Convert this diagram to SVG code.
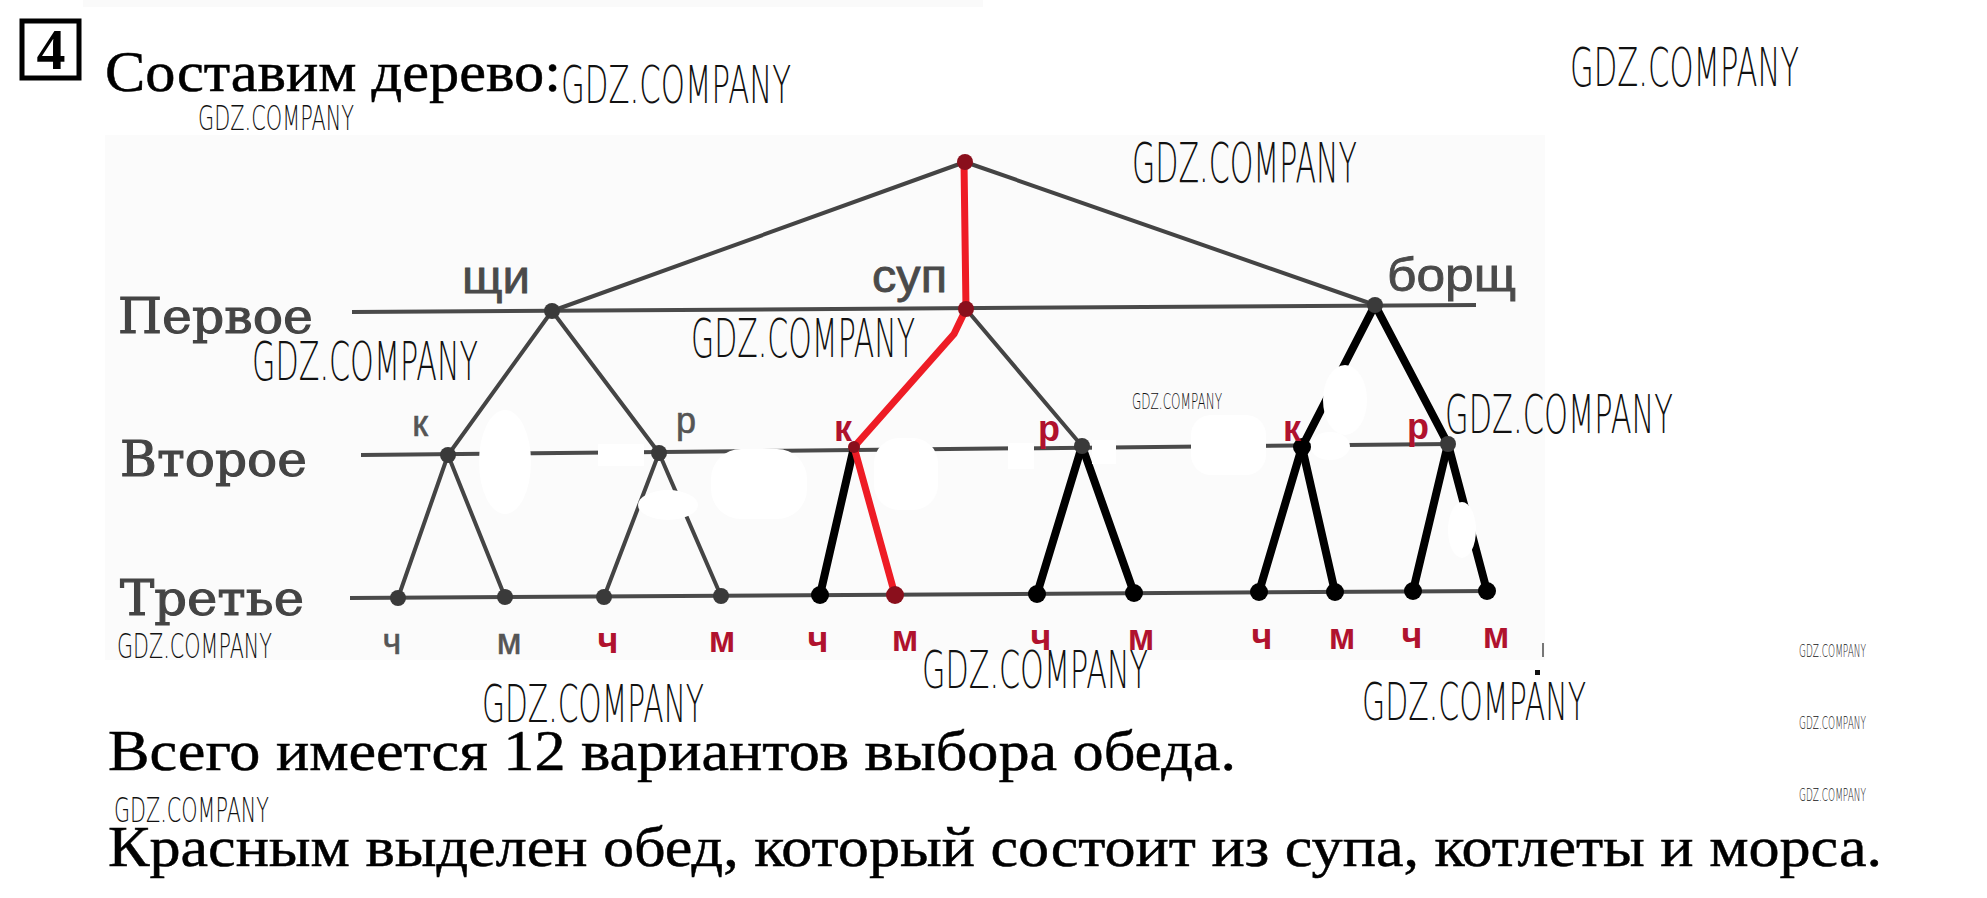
<svg xmlns="http://www.w3.org/2000/svg" width="1987" height="898" viewBox="0 0 1987 898">
<style>
.wm{font-family:"DejaVu Sans","Liberation Sans",sans-serif;font-weight:200;fill:#111;}
.title{font-family:"Liberation Serif","Times New Roman",serif;fill:#000;stroke:#000;stroke-width:0.5;font-size:57px;}
.lvl{font-family:"DejaVu Serif",serif;fill:#444;stroke:#444;stroke-width:1.1;font-size:48px;}
.dish{font-family:"Liberation Sans",Arial,sans-serif;fill:#4a4a4a;stroke:#4a4a4a;stroke-width:0.8;font-size:46px;}
.lg{font-family:"Liberation Sans",Arial,sans-serif;fill:#555;stroke:#555;stroke-width:0.6;font-size:36px;text-anchor:middle;}
.lr{font-family:"Liberation Sans",Arial,sans-serif;fill:#b0122e;font-size:36px;font-weight:bold;text-anchor:middle;}
.axis{stroke:#4a4a4a;stroke-width:4;fill:none;}
.thin{stroke:#444;stroke-width:4;fill:none;stroke-linecap:round;}
.thick{stroke:#000;stroke-width:8;fill:none;stroke-linecap:round;}
.red{stroke:#ee1c25;stroke-width:7;fill:none;stroke-linecap:round;stroke-linejoin:round;}
.dg{fill:#3a3a3a;}
.db{fill:#000;}
.dr{fill:#8a0f1c;}
.er{fill:#fff;}
</style>
<rect width="1987" height="898" fill="#fff"/>
<rect x="83" y="0" width="900" height="7" fill="#fafafa"/>
<rect x="105" y="135" width="1440" height="525" fill="#fbfbfb"/>

<g id="header">
<rect x="22" y="21" width="57" height="57" fill="none" stroke="#000" stroke-width="5"/>
<text x="51" y="69" font-family="Liberation Serif,serif" font-weight="bold" font-size="58" text-anchor="middle">4</text>
<text class="title" x="105" y="91" textLength="456" lengthAdjust="spacingAndGlyphs">Составим дерево:</text>
</g>

<g id="levels">
<line class="axis" x1="352" y1="312" x2="1476" y2="305"/>
<line class="axis" x1="361" y1="455" x2="1450" y2="444"/>
<line class="axis" x1="350" y1="598" x2="1492" y2="591"/>
<text class="lvl" x="118" y="333" textLength="195" lengthAdjust="spacingAndGlyphs">Первое</text>
<text class="lvl" x="120" y="476" textLength="187" lengthAdjust="spacingAndGlyphs">Второе</text>
<text class="lvl" x="120" y="615" textLength="184" lengthAdjust="spacingAndGlyphs">Третье</text>
</g>

<g id="connectors">
<line class="thin" x1="965" y1="162" x2="552" y2="311"/>
<line class="thin" x1="965" y1="162" x2="1375" y2="305"/>
<line class="thin" x1="552" y1="311" x2="448" y2="455"/>
<line class="thin" x1="552" y1="311" x2="659" y2="453"/>
<line class="thin" x1="448" y1="455" x2="398" y2="598"/>
<line class="thin" x1="448" y1="455" x2="505" y2="597"/>
<line class="thin" x1="659" y1="453" x2="604" y2="597"/>
<line class="thin" x1="659" y1="453" x2="721" y2="596"/>
<line class="thin" x1="966" y1="309" x2="1082" y2="446"/>
<line class="thick" x1="854" y1="447" x2="820" y2="595"/>
<line class="thick" x1="1082" y1="446" x2="1037" y2="594"/>
<line class="thick" x1="1082" y1="446" x2="1134" y2="593"/>
<line class="thick" x1="1375" y1="305" x2="1302" y2="447"/>
<line class="thick" x1="1375" y1="305" x2="1448" y2="444"/>
<line class="thick" x1="1302" y1="447" x2="1259" y2="592"/>
<line class="thick" x1="1302" y1="447" x2="1335" y2="592"/>
<line class="thick" x1="1448" y1="444" x2="1413" y2="591"/>
<line class="thick" x1="1448" y1="444" x2="1487" y2="591"/>
<polyline class="red" points="964,162 966,309 954,334 854,447 895,595"/>
</g>

<g id="erasures">
<ellipse class="er" cx="505" cy="462" rx="26" ry="52"/>
<rect class="er" x="598" y="444" width="46" height="22"/>
<ellipse class="er" cx="668" cy="505" rx="30" ry="15"/>
<rect class="er" x="711" y="449" width="96" height="70" rx="30"/>
<rect class="er" x="874" y="438" width="64" height="72" rx="25"/>
<rect class="er" x="1008" y="443" width="26" height="26"/>
<rect class="er" x="1092" y="440" width="24" height="24"/>
<rect class="er" x="1191" y="415" width="75" height="60" rx="20"/>
<ellipse class="er" cx="1345" cy="400" rx="22" ry="35"/>
<ellipse class="er" cx="1330" cy="446" rx="20" ry="14"/>
<ellipse class="er" cx="1462" cy="530" rx="14" ry="28"/>
</g>

<g id="root"><circle class="dr" cx="965" cy="162" r="8"/></g>
<g id="n-shchi"><circle class="dg" cx="552" cy="311" r="8"/><text class="dish" x="462" y="293" textLength="68" lengthAdjust="spacingAndGlyphs">щи</text></g>
<g id="n-sup"><circle class="dr" cx="966" cy="309" r="8"/><text class="dish" x="872" y="292" textLength="75" lengthAdjust="spacingAndGlyphs">суп</text></g>
<g id="n-borshch"><circle class="dg" cx="1375" cy="305" r="8"/><text class="dish" x="1387" y="291" textLength="129" lengthAdjust="spacingAndGlyphs">борщ</text></g>

<g id="n-shchi-k"><circle class="dg" cx="448" cy="455" r="8"/><text class="lg" x="420" y="436">к</text></g>
<g id="n-shchi-r"><circle class="dg" cx="659" cy="453" r="8"/><text class="lg" x="686" y="433">р</text></g>
<g id="n-sup-k"><circle class="dr" cx="854" cy="447" r="6"/><text class="lr" x="843" y="441">к</text></g>
<g id="n-sup-r"><circle class="dg" cx="1082" cy="446" r="8"/><text class="lr" x="1049" y="441">р</text></g>
<g id="n-borshch-k"><circle class="db" cx="1302" cy="447" r="9"/><text class="lr" x="1292" y="441">к</text></g>
<g id="n-borshch-r"><circle class="dg" cx="1448" cy="444" r="8"/><text class="lr" x="1418" y="439">р</text></g>

<g id="l1"><circle class="dg" cx="398" cy="598" r="8"/><text class="lg" x="392" y="654">ч</text></g>
<g id="l2"><circle class="dg" cx="505" cy="597" r="8"/><text class="lg" x="509" y="654">м</text></g>
<g id="l3"><circle class="dg" cx="604" cy="597" r="8"/><text class="lr" x="608" y="653">ч</text></g>
<g id="l4"><circle class="dg" cx="721" cy="596" r="8"/><text class="lr" x="722" y="652">м</text></g>
<g id="l5"><circle class="db" cx="820" cy="595" r="9"/><text class="lr" x="818" y="652">ч</text></g>
<g id="l6"><circle class="dr" cx="895" cy="595" r="9"/><text class="lr" x="905" y="651">м</text></g>
<g id="l7"><circle class="db" cx="1037" cy="594" r="9"/><text class="lr" x="1041" y="650">ч</text></g>
<g id="l8"><circle class="db" cx="1134" cy="593" r="9"/><text class="lr" x="1141" y="650">м</text></g>
<g id="l9"><circle class="db" cx="1259" cy="592" r="9"/><text class="lr" x="1262" y="649">ч</text></g>
<g id="l10"><circle class="db" cx="1335" cy="592" r="9"/><text class="lr" x="1342" y="649">м</text></g>
<g id="l11"><circle class="db" cx="1413" cy="591" r="9"/><text class="lr" x="1412" y="648">ч</text></g>
<g id="l12"><circle class="db" cx="1487" cy="591" r="9"/><text class="lr" x="1496" y="648">м</text></g>

<g id="summary">
<text class="title" x="108" y="770" textLength="1128" lengthAdjust="spacingAndGlyphs">Всего имеется 12 вариантов выбора обеда.</text>
<text class="title" x="108" y="866" textLength="1774" lengthAdjust="spacingAndGlyphs">Красным выделен обед, который состоит из супа, котлеты и морса.</text>
</g>

<g id="watermarks">
<text class="wm" x="561" y="103" font-size="52" textLength="230" lengthAdjust="spacingAndGlyphs">GDZ.COMPANY</text>
<text class="wm" x="198" y="130" font-size="34" textLength="156" lengthAdjust="spacingAndGlyphs">GDZ.COMPANY</text>
<text class="wm" x="1570" y="86" font-size="54" textLength="229" lengthAdjust="spacingAndGlyphs">GDZ.COMPANY</text>
<text class="wm" x="1132" y="182" font-size="56" textLength="225" lengthAdjust="spacingAndGlyphs">GDZ.COMPANY</text>
<text class="wm" x="252" y="380" font-size="54" textLength="226" lengthAdjust="spacingAndGlyphs">GDZ.COMPANY</text>
<text class="wm" x="691" y="357" font-size="53" textLength="224" lengthAdjust="spacingAndGlyphs">GDZ.COMPANY</text>
<text class="wm" x="1132" y="409" font-size="22" textLength="90" lengthAdjust="spacingAndGlyphs">GDZ.COMPANY</text>
<text class="wm" x="1445" y="433" font-size="54" textLength="228" lengthAdjust="spacingAndGlyphs">GDZ.COMPANY</text>
<text class="wm" x="117" y="658" font-size="34" textLength="155" lengthAdjust="spacingAndGlyphs">GDZ.COMPANY</text>
<text class="wm" x="922" y="688" font-size="52" textLength="226" lengthAdjust="spacingAndGlyphs">GDZ.COMPANY</text>
<text class="wm" x="482" y="722" font-size="52" textLength="222" lengthAdjust="spacingAndGlyphs">GDZ.COMPANY</text>
<text class="wm" x="1362" y="720" font-size="52" textLength="224" lengthAdjust="spacingAndGlyphs">GDZ.COMPANY</text>
<rect x="1535" y="670" width="5" height="5" fill="#111"/>
<rect x="1542" y="643" width="2" height="14" fill="#777"/>
<text class="wm" x="1799" y="657" font-size="18" textLength="67" lengthAdjust="spacingAndGlyphs" fill="#333">GDZ.COMPANY</text>
<text class="wm" x="1799" y="729" font-size="18" textLength="67" lengthAdjust="spacingAndGlyphs" fill="#333">GDZ.COMPANY</text>
<text class="wm" x="1799" y="801" font-size="18" textLength="67" lengthAdjust="spacingAndGlyphs" fill="#333">GDZ.COMPANY</text>
<text class="wm" x="114" y="822" font-size="34" textLength="155" lengthAdjust="spacingAndGlyphs">GDZ.COMPANY</text>
</g>
</svg>
